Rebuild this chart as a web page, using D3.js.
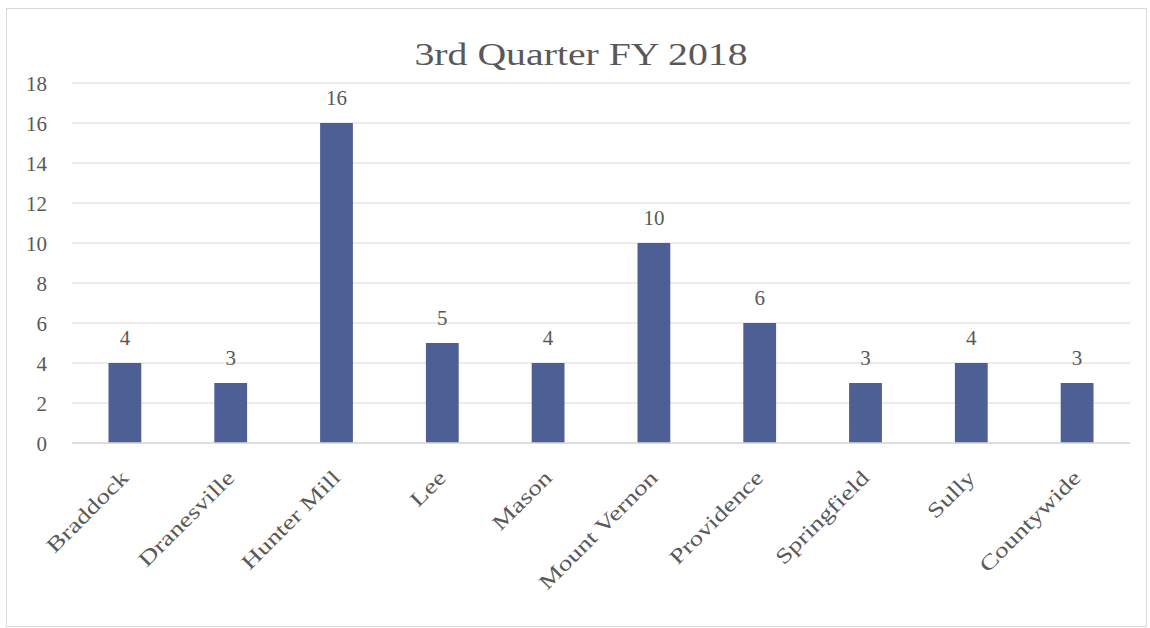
<!DOCTYPE html>
<html>
<head>
<meta charset="utf-8">
<script src="https://cdn.jsdelivr.net/npm/d3@7"></script>
<style>
  body { margin: 0; background: #fff; }
  text { font-family: "Palatino Linotype", "Book Antiqua", Palatino, "Liberation Serif", serif; fill: #595959; }
</style>
</head>
<body>
<div id="okvir"></div>
<script>
// podaci
var districts = ["Braddock", "Dranesville", "Hunter Mill", "Lee", "Mason", "Mount Vernon", "Providence", "Springfield", "Sully", "Countywide"];
var counts = [4, 3, 16, 5, 4, 10, 6, 3, 4, 3];
var yTicks = [0, 2, 4, 6, 8, 10, 12, 14, 16, 18];
var title = "3rd Quarter FY 2018";

var width = 1150;
var height = 628;
var margin = { top: 83, left: 72 };
var plotRight = 1130;
var widen = 1.3; // Palatino je siri od zamjenskog fonta

var data = districts.map((d, i) => ({ name: d, value: counts[i] }));

var svg = d3.select("#okvir")
    .append("svg")
    .attr("width", width)
    .attr("height", height);

// okvir oko grafa
svg.append("rect")
    .attr("x", 6.5)
    .attr("y", 8.5)
    .attr("width", 1140)
    .attr("height", 618)
    .attr("fill", "none")
    .attr("stroke", "#d9d9d9");

var x = d3.scaleBand()
    .domain(districts)
    .range([margin.left, plotRight])
    .padding(0);

var y = d3.scaleLinear()
    .domain([0, 18])
    .range([443, margin.top]);

// mreza
svg.append("g")
    .selectAll("line")
    .data(yTicks)
    .enter()
    .append("line")
    .attr("x1", margin.left)
    .attr("x2", plotRight)
    .attr("y1", d => y(d))
    .attr("y2", d => y(d))
    .attr("stroke", "#d9d9d9")
    .attr("stroke-width", 1);

// y os
var yAxis = svg.append("g")
    .attr("transform", "translate(47,0)")
    .call(d3.axisLeft(y).tickValues(yTicks).tickSize(0).tickPadding(0));
yAxis.select(".domain").remove();
yAxis.selectAll("text")
    .attr("fill", null)
    .style("font-size", "21px")
    .attr("dy", "0.35em");

// stupci
var barW = x.bandwidth() * 0.31;
svg.append("g")
    .selectAll("rect")
    .data(data)
    .enter()
    .append("rect")
    .attr("x", d => x(d.name) + x.bandwidth() / 2 - barW / 2)
    .attr("y", d => y(d.value))
    .attr("width", barW)
    .attr("height", d => y(0) - y(d.value))
    .attr("fill", "#4d5f94");

// os x (bazna linija)
svg.append("line")
    .attr("x1", margin.left)
    .attr("x2", plotRight)
    .attr("y1", y(0))
    .attr("y2", y(0))
    .attr("stroke", "#d9d9d9")
    .attr("stroke-width", 1.5);

// oznake vrijednosti
svg.append("g")
    .selectAll("text")
    .data(data)
    .enter()
    .append("text")
    .text(d => d.value)
    .attr("x", d => x(d.name) + x.bandwidth() / 2)
    .attr("y", d => y(d.value) - 18)
    .attr("text-anchor", "middle")
    .style("font-size", "21px");

// kategorije na x osi
svg.append("g")
    .selectAll("text")
    .data(data)
    .enter()
    .append("text")
    .text(d => d.name)
    .attr("text-anchor", "end")
    .attr("transform", d => "translate(" + (x(d.name) + x.bandwidth() / 2 + 5) + "," + (y(0) + 36) + ") rotate(-45)")
    .style("font-size", "21px")
    .each(function () {
        var len = this.getComputedTextLength();
        d3.select(this)
            .attr("textLength", len * widen)
            .attr("lengthAdjust", "spacingAndGlyphs");
    });

// naslov
svg.append("text")
    .attr("x", 581)
    .attr("y", 65)
    .attr("text-anchor", "middle")
    .attr("textLength", 333)
    .attr("lengthAdjust", "spacingAndGlyphs")
    .text(title)
    .style("font-size", "32px");
</script>
</body>
</html>
